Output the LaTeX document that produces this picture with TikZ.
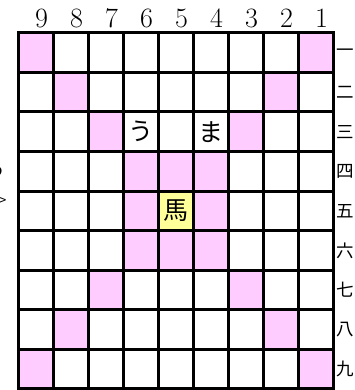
\documentclass[tikz,border=0pt]{standalone}
\usepackage{fontspec}
\newfontfamily\jp{Noto Sans CJK JP}
\definecolor{pinkc}{HTML}{FFCCFF}
\definecolor{yelc}{HTML}{FFFF99}
\tikzset{
  gridline/.style={line width=3pt, line cap=square},
  collabel/.style={anchor=base, inner sep=0pt, font=\fontsize{28}{28}\selectfont},
  rowlabel/.style={anchor=west, inner sep=0pt, font=\jp\fontsize{17.5}{17.5}\selectfont},
  piece/.style={inner sep=0pt, font=\jp\fontsize{25}{25}\selectfont},
}
\begin{document}
\begin{tikzpicture}[x=1pt,y=-1pt]
\useasboundingbox (0,0) rectangle (354,390);
\clip (0,0) rectangle (354,390);
\def\L{18}\def\T{32.8}\def\W{35}\def\H{39.55}
% coloured squares
\foreach \c/\r in {9/1,1/1,8/2,2/2,7/3,3/3,6/4,5/4,4/4,6/5,4/5,6/6,5/6,4/6,7/7,3/7,8/8,2/8,9/9,1/9}
  \fill[pinkc] ({\L+(9-\c)*\W},{\T+(\r-1)*\H}) rectangle +(\W,\H);
\fill[yelc] ({\L+4*\W},{\T+4*\H}) rectangle +(\W,\H);
% grid
\foreach \i in {1,...,8} {
  \draw[gridline] ({\L+\i*\W},\T) -- ({\L+\i*\W},{\T+9*\H});
  \draw[gridline] (\L,{\T+\i*\H}) -- ({\L+9*\W},{\T+\i*\H});
}
\draw[gridline] (\L,\T) rectangle ({\L+9*\W},{\T+9*\H});
% column labels
\foreach \c in {1,...,9}
  \node[collabel] (col\c) at ({\L+(9-\c)*\W+\W/2+6},28) {\c};
% row labels
\foreach \r/\k in {1/一,2/二,3/三,4/四,5/五,6/六,7/七,8/八,9/九}
  \node[rowlabel] (row\r) at (336.5,{\T+(\r-0.5)*\H}) {\k};
% pieces
\node[piece] (u) at ({\L+3.5*\W},{\T+2.5*\H}) {う};
\node[piece] (ma) at ({\L+5.5*\W},{\T+2.5*\H}) {ま};
\node[piece] (uma) at ({\L+4.5*\W},{\T+4.5*\H}) {馬};
% clipped text at the left edge
\node[anchor=east, inner sep=0pt, font=\jp\fontsize{24}{24}\selectfont] (lefta) at (6,168) {る};
\node[anchor=east, inner sep=0pt, font=\jp\fontsize{14}{14}\selectfont] (leftb) at (6.5,201) {>};
\end{tikzpicture}
\end{document}
